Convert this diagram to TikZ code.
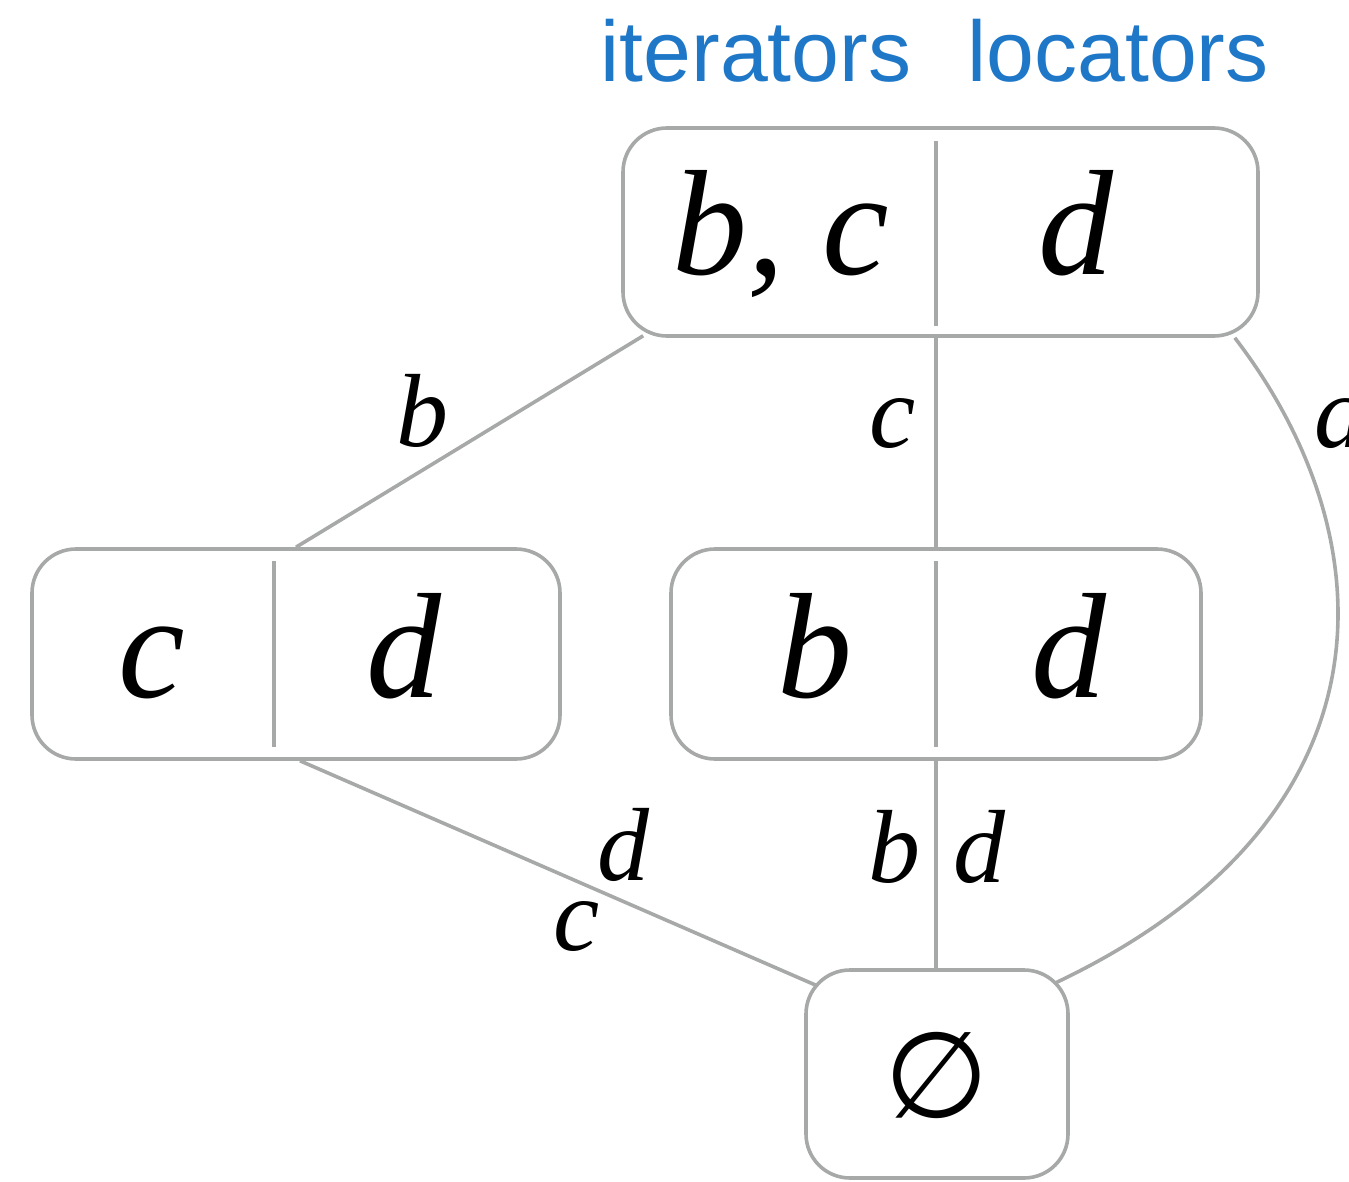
\documentclass[tikz,border=0pt]{standalone}
\usepackage{fontspec}
\setmainfont{Liberation Serif}
\newfontfamily\labfont{Liberation Sans}
\newfontfamily\symfont{DejaVu Sans}
\usetikzlibrary{calc,backgrounds}
\definecolor{edgegray}{HTML}{A7A9A8}
\definecolor{labblue}{HTML}{1F77C8}
\tikzset{
  setbox/.style={draw=edgegray, line width=3.6pt, rounded corners=44pt, fill=white, inner sep=0pt},
  divider/.style={draw=edgegray, line width=3.6pt},
  conn/.style={draw=edgegray, line width=3.6pt},
  big/.style={font=\fontsize{150}{150}\selectfont\itshape, anchor=base, inner sep=0pt},
  small/.style={font=\fontsize{104}{104}\selectfont\itshape, anchor=base, inner sep=0pt},
  head/.style={font=\fontsize{86}{86}\selectfont\labfont, text=labblue, anchor=base, inner sep=0pt}
}
\begin{document}
\begin{tikzpicture}[x=1pt,y=-1pt]
\useasboundingbox (0,0) rectangle (1349,1182);
\clip (0,0) rectangle (1349,1182);
% boxes
\node[setbox, minimum width=635pt, minimum height=208pt] (top) at (940.5,232) {};
\node[setbox, minimum width=528pt, minimum height=210pt] (left) at (296,654) {};
\node[setbox, minimum width=530pt, minimum height=210pt] (mid) at (936,654) {};
\node[setbox, minimum width=262pt, minimum height=208pt] (bot) at (937,1074) {};
% dividers
\coordinate (tdA) at (936,141); \coordinate (tdB) at (936,326);
\coordinate (ldA) at (274,561); \coordinate (ldB) at (274,747);
\coordinate (mdA) at (936,561); \coordinate (mdB) at (936,747);
\draw[divider] (tdA) -- (tdB);
\draw[divider] (ldA) -- (ldB);
\draw[divider] (mdA) -- (mdB);
% box contents
\node[big] (t1) at (781,275) {b, c};
\node[big] (t2) at (1076,275) {d};
\node[big] (l1) at (152,697) {c};
\node[big] (l2) at (404,697) {d};
\node[big] (m1) at (815,697) {b};
\node[big] (m2) at (1069,697) {d};
\node[font=\fontsize{120}{120}\selectfont\symfont, inner sep=0pt] (e) at (937,1075) {∅};
% headers
\node[head] (hi) at (756,82) {iterators};
\node[head] (hl) at (1118,82) {locators};
% connectors
\begin{scope}[on background layer]
\draw[conn] (left.north) -- ([xshift=22pt,yshift=2pt]top.south west);
\draw[conn] (mid.north) -- (mid.north |- top.south);
\draw[conn] ([xshift=-25pt]top.south east) .. controls (1390,540) and (1400,820) .. ($(bot.north east)+(-15,15)$);
\draw[conn] ([xshift=4pt]left.south) -- ($(bot.north west)+(30,25)$);
\draw[conn] (mid.south) -- (mid.south |- bot.north);
\end{scope}
% edge labels
\node[small] (lb1) at (422,446) {b};
\node[small] (lc1) at (893,447) {c};
\node[small] (la1) at (1340,447) {a};
\node[small] (ld2) at (623,880) {d};
\node[small] (lc2) at (577,950) {c};
\node[small] (lb3) at (894,882) {b};
\node[small] (ld3) at (979,882) {d};
\end{tikzpicture}
\end{document}
